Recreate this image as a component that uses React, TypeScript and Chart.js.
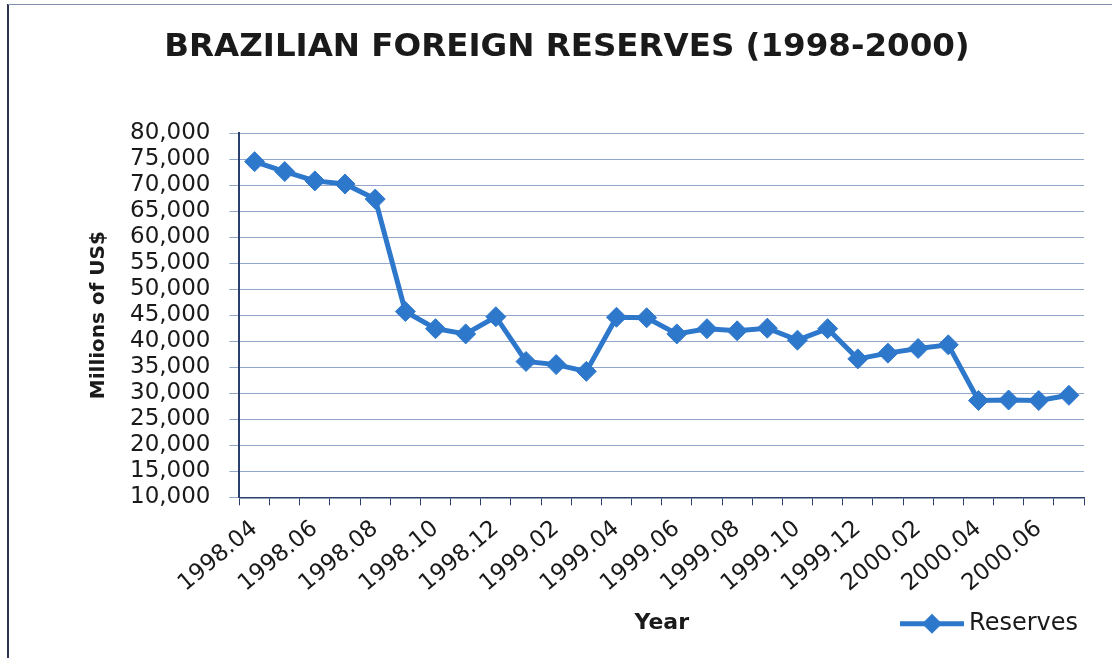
import React, { useEffect, useRef } from "react";
import { Chart, registerables } from "chart.js";

Chart.register(...registerables);

const CHART_TITLE = "BRAZILIAN FOREIGN RESERVES (1998-2000)";
const Y_TITLE = "Millions of US$";
const X_TITLE = "Year";
const SERIES_NAME = "Reserves";

const months: string[] = [
  "1998.04", "1998.05", "1998.06", "1998.07", "1998.08", "1998.09", "1998.10",
  "1998.11", "1998.12", "1999.01", "1999.02", "1999.03", "1999.04", "1999.05",
  "1999.06", "1999.07", "1999.08", "1999.09", "1999.10", "1999.11", "1999.12",
  "2000.01", "2000.02", "2000.03", "2000.04", "2000.05", "2000.06", "2000.07",
];

const reserves: number[] = [
  74500, 72600, 70800, 70200, 67300, 45700, 42400,
  41400, 44700, 36100, 35500, 34200, 44600, 44500,
  41400, 42400, 42000, 42500, 40200, 42400, 36600,
  37700, 38600, 39300, 28600, 28700, 28600, 29600,
];

const Y_MIN = 10000;
const Y_MAX = 80000;
const Y_STEP = 5000;

const LINE_COLOR = "#2E78CC";
const GRID_COLOR = "#93a7cc";
const AXIS_COLOR = "#2a3f6e";
const TEXT_COLOR = "#1a1a1a";
const FONT = "DejaVu Sans";

const X_TITLE_SIZE = 22;
const X_TITLE_PAD_BOTTOM = 4;

const legendPlugin = {
  id: "sideLegend",
  afterDraw(chart: any) {
    const { ctx, chartArea, scales } = chart;
    const xs = scales.x;
    const y = xs.bottom - X_TITLE_PAD_BOTTOM - (X_TITLE_SIZE * 1.2) / 2 + 1;
    ctx.save();
    ctx.font = `24px "${FONT}"`;
    const tw = ctx.measureText(SERIES_NAME).width;
    const textRight = chartArea.right - 6;
    const textLeft = textRight - tw;
    ctx.fillStyle = TEXT_COLOR;
    ctx.textBaseline = "middle";
    ctx.textAlign = "left";
    ctx.fillText(SERIES_NAME, textLeft, y);
    const lineEnd = textLeft - 5;
    const lineStart = lineEnd - 64;
    ctx.strokeStyle = LINE_COLOR;
    ctx.lineWidth = 5;
    ctx.beginPath();
    ctx.moveTo(lineStart, y);
    ctx.lineTo(lineEnd, y);
    ctx.stroke();
    const cx = (lineStart + lineEnd) / 2;
    const r = 10;
    ctx.fillStyle = LINE_COLOR;
    ctx.beginPath();
    ctx.moveTo(cx - r, y);
    ctx.lineTo(cx, y - r);
    ctx.lineTo(cx + r, y);
    ctx.lineTo(cx, y + r);
    ctx.closePath();
    ctx.fill();
    ctx.restore();
  },
};

export default function App() {
  const canvasRef = useRef<HTMLCanvasElement | null>(null);

  useEffect(() => {
    if (!canvasRef.current) return;
    const chart = new Chart(canvasRef.current, {
      type: "line",
      data: {
        labels: months,
        datasets: [
          {
            label: SERIES_NAME,
            data: reserves,
            borderColor: LINE_COLOR,
            backgroundColor: LINE_COLOR,
            borderWidth: 5,
            pointStyle: "rectRot",
            pointRadius: 10,
            pointBorderWidth: 1,
            pointBorderColor: LINE_COLOR,
            pointBackgroundColor: LINE_COLOR,
            tension: 0,
          },
        ],
      },
      options: {
        responsive: false,
        animation: false,
        layout: { padding: { left: 50, right: 33, bottom: 18, top: 0 } },
        plugins: {
          legend: { display: false },
          tooltip: { enabled: false },
          title: {
            display: true,
            text: CHART_TITLE,
            color: TEXT_COLOR,
            font: { family: FONT, size: 32.5, weight: "bold" },
            padding: { top: 28, bottom: 66 },
          },
        },
        scales: {
          x: {
            type: "category",
            offset: true,
            grid: {
              offset: true,
              drawOnChartArea: false,
              drawTicks: true,
              tickLength: 8,
              color: AXIS_COLOR,
            },
            border: { display: true, color: AXIS_COLOR, width: 1.5 },
            ticks: {
              autoSkip: false,
              minRotation: 40,
              maxRotation: 40,
              padding: 10,
              color: TEXT_COLOR,
              font: { family: FONT, size: 23 },
              callback: (_v: any, i: number) => (i % 2 === 0 ? months[i] : ""),
            },
            title: {
              display: true,
              text: X_TITLE,
              color: TEXT_COLOR,
              font: { family: FONT, size: X_TITLE_SIZE, weight: "bold" },
              padding: { top: 2, bottom: X_TITLE_PAD_BOTTOM },
            },
          },
          y: {
            min: Y_MIN,
            max: Y_MAX,
            grid: {
              color: GRID_COLOR,
              lineWidth: 1,
              tickLength: 10,
            },
            border: { display: true, color: AXIS_COLOR, width: 2 },
            ticks: {
              stepSize: Y_STEP,
              autoSkip: false,
              maxTicksLimit: 30,
              padding: 19,
              color: TEXT_COLOR,
              font: { family: FONT, size: 23, lineHeight: 1 },
              callback: (v: any) => Number(v).toLocaleString("en-US"),
            },
            title: {
              display: true,
              text: Y_TITLE,
              color: TEXT_COLOR,
              font: { family: FONT, size: 20, weight: "bold" },
              padding: { top: 37, bottom: 0 },
            },
          },
        },
      },
      plugins: [legendPlugin],
    });
    return () => chart.destroy();
  }, []);

  return (
    <div style={{ position: "absolute", left: 0, top: 0, width: 1117, height: 658, background: "#fff" }}>
      <canvas ref={canvasRef} width={1117} height={658} style={{ position: "absolute", left: 0, top: 0 }} />
      <div style={{ position: "absolute", left: 7, top: 4, width: 2, height: 654, background: "#2b3550" }} />
      <div style={{ position: "absolute", left: 8, top: 4, width: 1104, height: 1, background: "#8090b0" }} />
    </div>
  );
}
